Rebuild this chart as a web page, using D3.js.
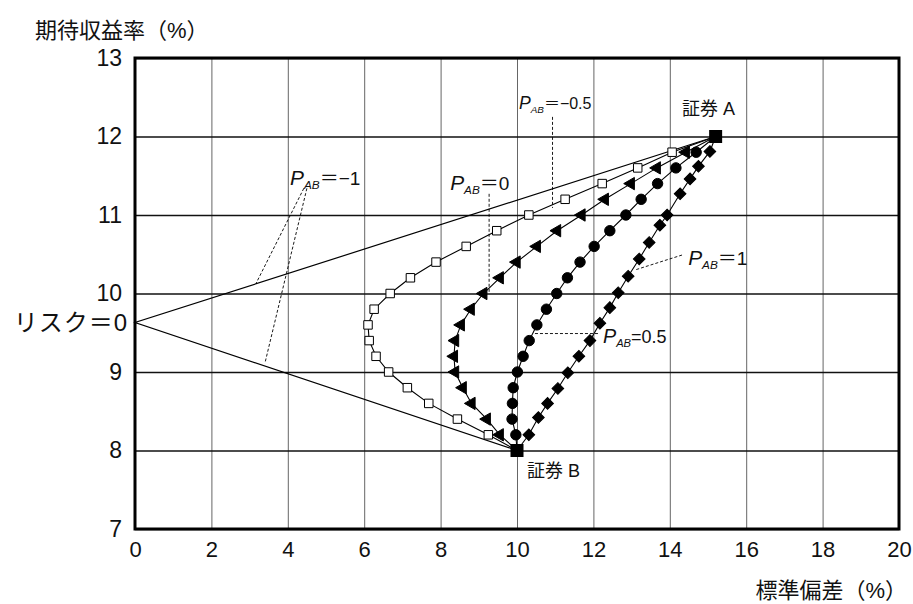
<!DOCTYPE html>
<html>
<head>
<meta charset="utf-8">
<script src="https://cdn.jsdelivr.net/npm/d3@7"></script>
<style>
body { margin: 0; background: #fff; }
text { font-family: "Liberation Sans", "Noto Sans CJK JP", sans-serif; fill: #111; }
</style>
</head>
<body>
<div class="chart"></div>
<script>
// security A and B (std dev %, expected return %)
var secA = [15.2, 12];
var secB = [10, 8];

// expected return of the portfolios between B and A
var retSteps = [8.2, 8.4, 8.6, 8.8, 9.0, 9.2, 9.4, 9.6, 9.8, 10.0, 10.2, 10.4, 10.6, 10.8, 11.0, 11.2, 11.4, 11.6, 11.8];

// std dev of the portfolios for each correlation
var sdNeg05 = [9.25, 8.44, 7.69, 7.13, 6.64, 6.31, 6.13, 6.10, 6.26, 6.68, 7.21, 7.88, 8.67, 9.47, 10.31, 11.26, 12.23, 13.16, 14.06];
var sdZero = [9.55, 9.21, 8.81, 8.58, 8.38, 8.35, 8.38, 8.53, 8.79, 9.12, 9.55, 9.99, 10.52, 11.05, 11.69, 12.30, 12.98, 13.66, 14.42];
var sdPos05 = [9.97, 9.87, 9.88, 9.90, 10.01, 10.16, 10.32, 10.52, 10.77, 11.04, 11.32, 11.65, 12.02, 12.43, 12.85, 13.25, 13.68, 14.16, 14.69];

// rho = 1 (read on its own)
var sdPos1 = [10.31, 10.56, 10.80, 11.07, 11.33, 11.62, 11.91, 12.17, 12.43, 12.65, 12.91, 13.20, 13.46, 13.74, 13.93, 14.27, 14.53, 14.75, 15.05];
var retPos1 = [8.20, 8.42, 8.60, 8.79, 8.99, 9.20, 9.40, 9.62, 9.82, 10.01, 10.22, 10.44, 10.65, 10.87, 11.00, 11.27, 11.46, 11.62, 11.81];

// rho = -1 : B -> zero risk -> A
var sdNeg1 = [10, 0, 15.2];
var retNeg1 = [8, 9.63, 12];

var xTicks = [0, 2, 4, 6, 8, 10, 12, 14, 16, 18, 20];
var yTicks = [7, 8, 9, 10, 11, 12, 13];

function draw() {
    var width = 913,
        height = 604,
        margin = { top: 58, right: 14, bottom: 75, left: 135 },
        w = width - margin.left - margin.right,
        h = height - margin.top - margin.bottom;

    var svg = d3.select(".chart")
        .append("svg")
        .attr("width", width)
        .attr("height", height);

    var g = svg.append("g")
        .attr("transform", "translate(" + margin.left + "," + margin.top + ")");

    var x = d3.scaleLinear().domain([0, 20]).range([0, w]);
    var y = d3.scaleLinear().domain([7, 13]).range([h, 0]);

    // gridlines
    g.append("g")
        .attr("class", "grid")
        .attr("transform", "translate(0," + h + ")")
        .call(d3.axisBottom(x).tickValues(xTicks).tickSize(-h).tickFormat(""))
        .call(s => s.select(".domain").remove())
        .selectAll("line")
        .style("stroke", "#555")
        .style("stroke-width", 0.9);

    g.append("g")
        .attr("class", "grid")
        .call(d3.axisLeft(y).tickValues(yTicks).tickSize(-w).tickFormat(""))
        .call(s => s.select(".domain").remove())
        .selectAll("line")
        .style("stroke", "#111")
        .style("stroke-width", 1.3);

    // tick labels
    g.append("g")
        .attr("transform", "translate(0," + h + ")")
        .call(d3.axisBottom(x).tickValues(xTicks).tickSize(0).tickPadding(12).tickFormat(d3.format("d")))
        .call(s => s.select(".domain").remove())
        .selectAll("text")
        .style("font-size", "22px")
        .style("fill", "#111")
        .style("font-family", "Liberation Sans, sans-serif");

    g.append("g")
        .call(d3.axisLeft(y).tickValues(yTicks).tickSize(0).tickPadding(13).tickFormat(d3.format("d")))
        .call(s => s.select(".domain").remove())
        .selectAll("text")
        .style("font-size", "23px")
        .style("fill", "#111")
        .style("font-family", "Liberation Sans, sans-serif");

    // frame
    g.append("rect")
        .attr("x", 0).attr("y", 0)
        .attr("width", w).attr("height", h)
        .style("fill", "none")
        .style("stroke", "#000")
        .style("stroke-width", 3);

    // axis titles
    svg.append("text")
        .attr("x", 35).attr("y", 38)
        .style("font-size", "22px")
        .text("期待収益率（%）");

    svg.append("text")
        .attr("x", 907).attr("y", 598)
        .attr("text-anchor", "end")
        .style("font-size", "22px")
        .text("標準偏差（%）");

    svg.append("text")
        .attr("x", 128).attr("y", 331)
        .attr("text-anchor", "end")
        .style("font-size", "24px")
        .style("letter-spacing", "1px")
        .text("リスク＝0");

    function series(sd, ret) {
        var pts = [secB];
        for (var i = 0; i < sd.length; i++) pts.push([sd[i], ret[i]]);
        pts.push(secA);
        return pts;
    }

    var line = d3.line().x(d => x(d[0])).y(d => y(d[1]));

    var neg1 = sdNeg1.map((d, i) => [d, retNeg1[i]]);
    var curves = [
        { pts: series(sdNeg05, retSteps), mark: "square" },
        { pts: series(sdZero, retSteps), mark: "triangle" },
        { pts: series(sdPos05, retSteps), mark: "circle" },
        { pts: series(sdPos1, retPos1), mark: "diamond" }
    ];

    g.append("path")
        .datum(neg1)
        .attr("d", line)
        .style("fill", "none")
        .style("stroke", "#000")
        .style("stroke-width", 1.2);

    curves.forEach(function(c) {
        g.append("path")
            .datum(c.pts)
            .attr("d", line)
            .style("fill", "none")
            .style("stroke", "#000")
            .style("stroke-width", 1.1);
    });

    // dashed leader lines
    var leaders = [
        [4.42, 11.34, 3.17, 10.13],
        [4.50, 11.34, 3.40, 9.11],
        [9.27, 11.27, 9.27, 10.0],
        [10.93, 12.25, 10.93, 11.09],
        [14.32, 10.49, 13.09, 10.30],
        [10.47, 9.49, 12.17, 9.49]
    ];
    g.selectAll(".leader")
        .data(leaders)
        .enter()
        .append("line")
        .attr("x1", d => x(d[0])).attr("y1", d => y(d[1]))
        .attr("x2", d => x(d[2])).attr("y2", d => y(d[3]))
        .style("stroke", "#000")
        .style("stroke-width", 0.9)
        .style("stroke-dasharray", "3,2");

    // markers
    curves.forEach(function(c) {
        var inner = c.pts.slice(1, c.pts.length - 1);
        var sym, size, rot = 0, fill = "#000";
        if (c.mark == "square") { sym = d3.symbolSquare; size = 72; fill = "#fff"; }
        if (c.mark == "triangle") { sym = d3.symbolTriangle; size = 66; rot = -90; }
        if (c.mark == "circle") { sym = d3.symbolCircle; size = 85; }
        if (c.mark == "diamond") { sym = d3.symbolSquare; size = 68; rot = 45; }
        g.selectAll(".m" + c.mark)
            .data(inner)
            .enter()
            .append("path")
            .attr("d", d3.symbol().type(sym).size(size))
            .attr("transform", d => "translate(" + x(d[0]) + "," + y(d[1]) + ") rotate(" + rot + ")")
            .style("fill", fill)
            .style("stroke", "#000")
            .style("stroke-width", 1);
    });

    // securities A and B
    g.selectAll(".sec")
        .data([secA, secB])
        .enter()
        .append("rect")
        .attr("x", d => x(d[0]) - 6.5)
        .attr("y", d => y(d[1]) - 6.5)
        .attr("width", 13)
        .attr("height", 13)
        .style("fill", "#000");

    g.append("text")
        .attr("x", x(14.32)).attr("y", y(12.28))
        .style("font-size", "18px")
        .text("証券 A");

    g.append("text")
        .attr("x", x(10.26)).attr("y", y(7.66))
        .style("font-size", "18px")
        .text("証券 B");

    // rho labels
    function rhoLabel(px, py, val, size) {
        var t = g.append("text")
            .attr("x", x(px)).attr("y", y(py))
            .style("font-size", size + "px");
        t.append("tspan").style("font-style", "italic").style("font-size", (size * 1.1) + "px").text("P");
        t.append("tspan")
            .style("font-style", "italic")
            .style("font-size", (size * 0.62) + "px")
            .attr("dy", size * 0.22)
            .text("AB");
        t.append("tspan").attr("dy", -size * 0.22).text(val);
    }

    rhoLabel(4.06, 11.38, "＝−1", 19);
    rhoLabel(8.25, 11.32, "＝0", 19);
    rhoLabel(10.05, 12.35, "＝−0.5", 16);
    rhoLabel(14.48, 10.36, "＝1", 19);
    rhoLabel(12.25, 9.37, "=0.5", 18);
}

draw();
</script>
</body>
</html>
